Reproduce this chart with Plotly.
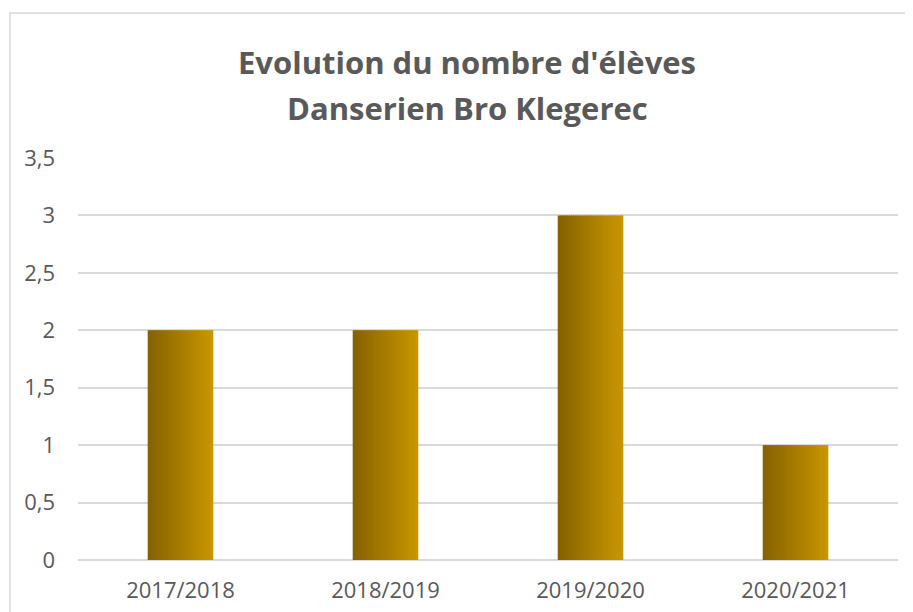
import plotly.graph_objects as go

categories = ["2017/2018", "2018/2019", "2019/2020", "2020/2021"]
values = [2, 2, 3, 1]
tick_vals = [0, 0.5, 1, 1.5, 2, 2.5, 3, 3.5]
tick_text = ["0", "0,5", "1", "1,5", "2", "2,5", "3", "3,5"]
title_lines = ["Evolution du nombre d'élèves", "Danserien Bro Klegerec"]

# gradient approximation: vertical strips from dark (left) to light (right)
dark = (0x86, 0x62, 0x00)
light = (0xC8, 0x96, 0x00)
n_strips = 30
bar_w = 0.32

# page has an 8px body offset; plot area targets (in page px): x 78..898, y 158..560
OFF = 8
L, R, T, B = 78 - OFF, 898 - OFF, 158 - OFF, 560 - OFF
PW, PH = R - L, B - T

fig = go.Figure()
for i in range(n_strips):
    t = i / (n_strips - 1)
    c = tuple(round(dark[k] + (light[k] - dark[k]) * t) for k in range(3))
    fig.add_trace(go.Bar(
        x=categories, y=values,
        width=bar_w / n_strips * 1.6 if i < n_strips - 1 else bar_w / n_strips,
        offset=-bar_w / 2 + i * bar_w / n_strips,
        marker=dict(color="rgb(%d,%d,%d)" % c, line=dict(width=0)),
        showlegend=False, hoverinfo="x+y",
    ))

def px_x(x):
    return (x - OFF - L) / PW

def px_y(y):
    return (B - (y - OFF)) / PH

fig.update_layout(
    width=913, height=612,
    barmode="overlay",
    paper_bgcolor="white", plot_bgcolor="white",
    margin=dict(l=L, r=913 - R, t=T, b=612 - B),
    font=dict(family="Open Sans", color="#595959"),
    xaxis=dict(
        showgrid=False, showline=False, zeroline=False, ticks="",
        tickfont=dict(size=22, color="#595959"),
        ticklabelstandoff=15, automargin=False,
    ),
    yaxis=dict(
        range=[0, 3.5],
        tickvals=tick_vals, ticktext=tick_text,
        showgrid=True, gridcolor="#D9D9D9", gridwidth=1.5,
        zeroline=True, zerolinecolor="#D9D9D9", zerolinewidth=1.5,
        showline=False, ticks="",
        tickfont=dict(size=22, color="#595959"),
        ticklabelstandoff=22, automargin=False,
    ),
    annotations=[
        dict(text="<b>" + title_lines[0] + "</b>", xref="paper", yref="paper",
             x=px_x(467), y=px_y(62), xanchor="center", yanchor="middle",
             showarrow=False, font=dict(family="Open Sans", size=31, color="#595959")),
        dict(text="<b>" + title_lines[1] + "</b>", xref="paper", yref="paper",
             x=px_x(467), y=px_y(108), xanchor="center", yanchor="middle",
             showarrow=False, font=dict(family="Open Sans", size=31, color="#595959")),
    ],
    shapes=[dict(
        type="rect", xref="paper", yref="paper",
        x0=px_x(10), x1=1.2, y0=-0.3, y1=px_y(13),
        line=dict(color="#D9D9D9", width=1.5), fillcolor="rgba(0,0,0,0)",
        layer="below",
    )],
)

fig.write_html("out.html")
